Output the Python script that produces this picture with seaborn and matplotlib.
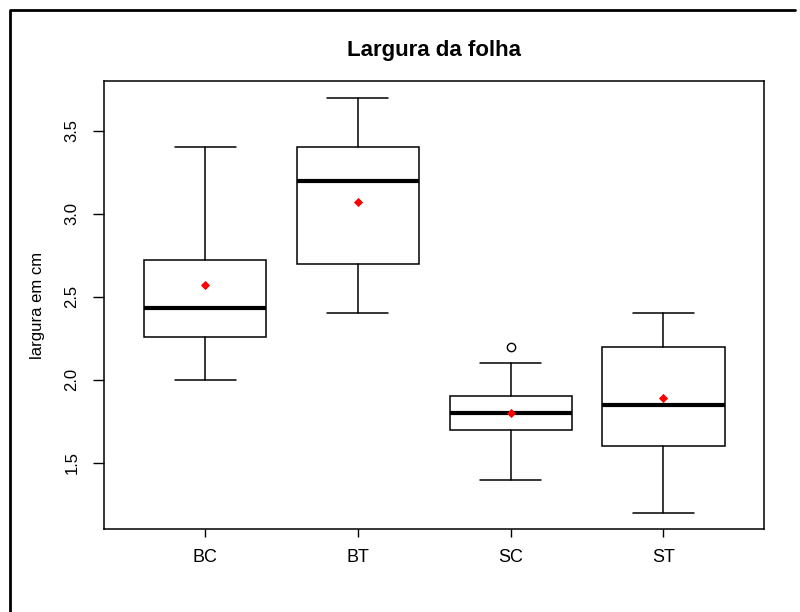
import numpy as np
import pandas as pd
import matplotlib
matplotlib.use('Agg')
import matplotlib.pyplot as plt
from matplotlib.lines import Line2D
import seaborn as sns

# dados (largura da folha, cm)
grupos = ['BC', 'BT', 'SC', 'ST']
minimos = [2.0, 2.4, 1.4, 1.2]
q1 = [2.26, 2.7, 1.7, 1.6]
medianas = [2.43, 3.2, 1.8, 1.85]
q3 = [2.72, 3.4, 1.9, 2.2]
maximos = [3.4, 3.7, 2.1, 2.4]
medias = [2.57, 3.07, 1.80, 1.89]
outliers = [[], [], [2.2], []]

sns.set_style('ticks')
plt.rcParams['font.family'] = ['Liberation Sans', 'DejaVu Sans']
plt.rcParams['text.color'] = 'black'
plt.rcParams['axes.labelcolor'] = 'black'
plt.rcParams['xtick.color'] = 'black'
plt.rcParams['ytick.color'] = 'black'

fig = plt.figure(figsize=(8, 6.12), dpi=100)
ax = fig.add_axes([0.1304, 0.1351, 0.825, 0.7325])

# estatisticas para o boxplot
stats = []
for i, g in enumerate(grupos):
    stats.append({
        'label': g,
        'med': medianas[i],
        'q1': q1[i],
        'q3': q3[i],
        'whislo': minimos[i],
        'whishi': maximos[i],
        'fliers': outliers[i],
    })

pos = np.arange(len(grupos))
ax.bxp(stats, positions=pos, widths=0.8, patch_artist=True,
       boxprops=dict(facecolor='white', edgecolor='black', linewidth=1.1),
       medianprops=dict(color='black', linewidth=3),
       whiskerprops=dict(color='black', linewidth=1.1),
       capprops=dict(color='black', linewidth=1.1),
       flierprops=dict(marker='o', markerfacecolor='none', markeredgecolor='black',
                       markersize=6, markeredgewidth=1))

# medias em vermelho
df_medias = pd.DataFrame({'pos': pos, 'media': medias})
sns.scatterplot(data=df_medias, x='pos', y='media', marker='D', color='red',
                s=22, linewidth=0, zorder=4, ax=ax)

ax.set_xlim(-0.66, 3.66)
ax.set_ylim(1.1, 3.8)
ax.set_xticks(pos)
ax.set_xticklabels(grupos, fontsize=13)
ax.set_yticks([1.5, 2.0, 2.5, 3.0, 3.5])
ax.set_yticklabels(['1.5', '2.0', '2.5', '3.0', '3.5'], fontsize=12,
                   rotation=90, va='center')
ax.tick_params(axis='y', length=8, width=1, pad=10, color='black')
ax.tick_params(axis='x', length=6, width=1, pad=8, color='black')
for s in ax.spines.values():
    s.set_visible(True)
    s.set_color('black')
    s.set_linewidth(1.1)

ax.set_xlabel('')
ax.set_ylabel('largura em cm', fontsize=12)
ax.yaxis.set_label_coords(-0.09, 0.5)
ax.set_title('Largura da folha', fontsize=16, fontweight='bold', pad=18)

# moldura externa (topo e esquerda)
fig.add_artist(Line2D([10 / 800, 10 / 800, 795 / 800], [0, 1 - 10 / 612, 1 - 10 / 612],
                      transform=fig.transFigure, color='black', linewidth=2))

fig.savefig('out.png', dpi=100)
